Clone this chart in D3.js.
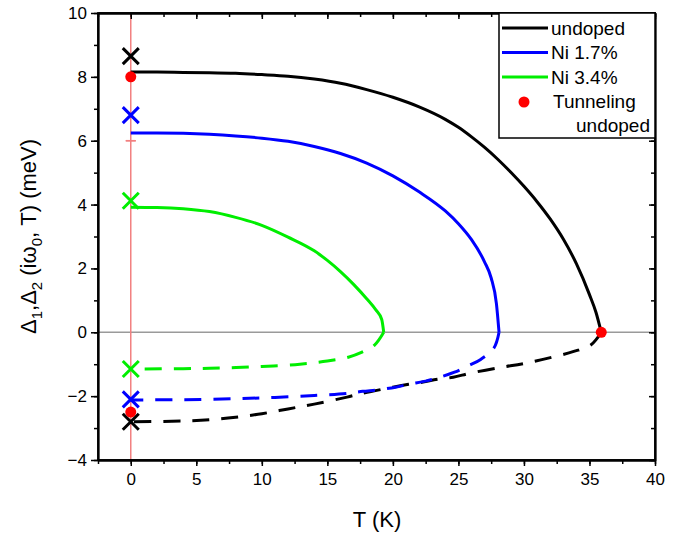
<!DOCTYPE html>
<html>
<head>
<meta charset="utf-8">
<script src="https://cdn.jsdelivr.net/npm/d3@7/dist/d3.min.js"></script>
<style>
  body { margin: 0; background: #fff; }
  text { font-family: "Liberation Sans", Arial, sans-serif; fill: #000; }
</style>
</head>
<body>
<script>
// gap values, [T (K), meV]
var undopedD1 = [[0,8.15],[2,8.15],[4,8.14],[6,8.13],[8,8.11],[10,8.07],[12,8.02],[14,7.93],[16,7.8],[18,7.6],[20,7.36],[22,7.06],[24,6.67],[25,6.42],[26,6.12],[27,5.79],[28,5.42],[29,5.01],[30,4.57],[31,4.09],[32,3.55],[33,2.92],[34,2.15],[35,1.18],[35.5,0.62],[35.9,0]];
var undopedD2 = [[35.9,0],[35.1,-0.4],[33.8,-0.6],[32.75,-0.72],[30,-0.98],[28.2,-1.1],[25.9,-1.28],[24.6,-1.41],[23.4,-1.47],[22.3,-1.56],[21.2,-1.63],[20,-1.72],[17.7,-1.91],[16.5,-2.03],[14,-2.25],[12,-2.4],[10,-2.55],[8,-2.66],[6,-2.74],[4,-2.78],[0,-2.8]];
var ni17D1 = [[0,6.24],[2,6.24],[4,6.23],[6,6.2],[8,6.15],[10,6.08],[12,5.98],[14,5.82],[16,5.6],[18,5.3],[20,4.9],[22,4.4],[24,3.8],[25,3.4],[26,2.9],[27,2.2],[27.5,1.7],[27.9,0.9],[28.1,0]];
var ni17D2 = [[28.1,0],[27.7,-0.5],[26.7,-0.85],[25.8,-1.04],[24.7,-1.25],[23.4,-1.43],[22.5,-1.53],[21.2,-1.63],[20.2,-1.72],[18.9,-1.8],[17.7,-1.85],[16.6,-1.91],[14,-1.98],[11,-2.04],[8,-2.08],[4,-2.11],[0,-2.12]];
var ni34D1 = [[0,3.92],[2,3.91],[4,3.87],[6,3.78],[8,3.6],[10,3.35],[12,2.98],[14,2.55],[15,2.25],[16,1.9],[17,1.5],[18,1.05],[18.7,0.7],[19.15,0.4],[19.3,0]];
var ni34D2 = [[19.3,0],[18.6,-0.4],[17.6,-0.63],[16.6,-0.78],[15,-0.9],[12.9,-1.0],[10,-1.07],[7,-1.12],[4,-1.14],[0,-1.15]];

var seriesNames = ["undoped", "Ni 1.7%", "Ni 3.4%"];
var seriesColors = ["#000000", "#0000ff", "#00ee00"];

// crosses at T = 0
var crossVals = [8.65, 6.8, 4.12, -1.15, -2.1, -2.8];
var crossColors = ["#000000", "#0000ff", "#00ee00", "#00ee00", "#0000ff", "#000000"];

// tunneling points (undoped), with error bars
var tunnelT = [0, 0, 35.9];
var tunnelVals = [8.0, -2.5, 0];
var tunnelErrLo = [2.0, 3.0, 0];
var tunnelErrHi = [2.0, 8.5, 0];

var xTicks = [0, 5, 10, 15, 20, 25, 30, 35, 40];
var yTicks = [-4, -2, 0, 2, 4, 6, 8, 10];

(function () {

    var width = 693, height = 535;
    var mLeft = 98, mRight = 655, mTop = 13, mBottom = 460;

    var x = d3.scaleLinear().domain([-2.5, 40]).range([mLeft, mRight]);
    var y = d3.scaleLinear().domain([-4, 10]).range([mBottom, mTop]);

    var svg = d3.select("body").append("svg")
        .attr("width", width)
        .attr("height", height);

    svg.append("defs").append("clipPath").attr("id", "plot")
        .append("rect")
        .attr("x", mLeft).attr("y", mTop)
        .attr("width", mRight - mLeft).attr("height", mBottom - mTop);

    // zero line
    svg.append("line")
        .attr("x1", mLeft).attr("x2", mRight)
        .attr("y1", y(0)).attr("y2", y(0))
        .attr("stroke", "#9a9a9a")
        .attr("stroke-width", 1.5);

    // error bars
    var eb = svg.append("g").attr("clip-path", "url(#plot)");
    tunnelVals.forEach(function (v, i) {
        if (!tunnelErrLo[i]) return;
        var cx = x(tunnelT[i]);
        var lo = v - tunnelErrLo[i], hi = v + tunnelErrHi[i];
        eb.append("line")
            .attr("x1", cx).attr("x2", cx)
            .attr("y1", y(lo)).attr("y2", y(hi))
            .attr("stroke", "#f28080").attr("stroke-width", 1.5);
        [lo, hi].forEach(function (e) {
            eb.append("line")
                .attr("x1", cx - 5).attr("x2", cx + 5)
                .attr("y1", y(e)).attr("y2", y(e))
                .attr("stroke", "#f28080").attr("stroke-width", 1.5);
        });
    });

    // Delta1 branches: T rises monotonically, so monotoneX keeps them smooth
    var line1 = d3.line()
        .x(function (d) { return x(d[0]); })
        .y(function (d) { return y(d[1]); })
        .curve(d3.curveMonotoneX);

    // Delta2 branches run back from Tc to 0
    var line2 = d3.line()
        .x(function (d) { return x(d[0]); })
        .y(function (d) { return y(d[1]); })
        .curve(d3.curveCatmullRom.alpha(0.5));

    var d1 = [undopedD1, ni17D1, ni34D1];
    var d2 = [undopedD2, ni17D2, ni34D2];

    var curves = svg.append("g").attr("clip-path", "url(#plot)");
    d2.forEach(function (s, i) {
        curves.append("path")
            .attr("d", line2(s))
            .attr("fill", "none")
            .attr("stroke", seriesColors[i])
            .attr("stroke-width", 3)
            .attr("stroke-dasharray", "17,12");
    });
    d1.forEach(function (s, i) {
        curves.append("path")
            .attr("d", line1(s))
            .attr("fill", "none")
            .attr("stroke", seriesColors[i])
            .attr("stroke-width", 3);
    });

    // crosses
    crossVals.forEach(function (v, i) {
        var cx = x(0), cy = y(v), r = 8;
        svg.append("path")
            .attr("d", "M" + (cx - r) + "," + (cy - r) + "L" + (cx + r) + "," + (cy + r) +
                "M" + (cx - r) + "," + (cy + r) + "L" + (cx + r) + "," + (cy - r))
            .attr("stroke", crossColors[i])
            .attr("stroke-width", 3)
            .attr("fill", "none");
    });

    // tunneling dots
    tunnelVals.forEach(function (v, i) {
        svg.append("circle")
            .attr("cx", x(tunnelT[i])).attr("cy", y(v))
            .attr("r", 5.5)
            .attr("fill", "#ff0000");
    });

    // axes
    var xMinor = d3.range(-2.5, 40.1, 2.5);
    var yMinor = d3.range(-4, 10.1, 1);

    var gx = svg.append("g").attr("transform", "translate(0," + mBottom + ")")
        .call(d3.axisBottom(x).tickValues(xTicks).tickSize(6).tickSizeOuter(0).tickPadding(7));
    svg.append("g").attr("transform", "translate(0," + mBottom + ")")
        .call(d3.axisBottom(x).tickValues(xMinor).tickSize(4).tickSizeOuter(0).tickFormat(""));
    var gy = svg.append("g").attr("transform", "translate(" + mLeft + ",0)")
        .call(d3.axisLeft(y).tickValues(yTicks).tickSize(7).tickSizeOuter(0).tickPadding(4));
    svg.append("g").attr("transform", "translate(" + mLeft + ",0)")
        .call(d3.axisLeft(y).tickValues(yMinor).tickSize(4).tickSizeOuter(0).tickFormat(""));
    svg.append("g").attr("transform", "translate(0," + mTop + ")")
        .call(d3.axisBottom(x).tickValues(xTicks).tickSize(6).tickSizeOuter(0).tickFormat(""));
    svg.append("g").attr("transform", "translate(0," + mTop + ")")
        .call(d3.axisBottom(x).tickValues(xMinor).tickSize(4).tickSizeOuter(0).tickFormat(""));
    svg.append("g").attr("transform", "translate(" + mRight + ",0)")
        .call(d3.axisRight(y).tickValues(yTicks).tickSize(-6).tickSizeOuter(0).tickFormat(""));
    svg.append("g").attr("transform", "translate(" + mRight + ",0)")
        .call(d3.axisRight(y).tickValues(yMinor).tickSize(-4).tickSizeOuter(0).tickFormat(""));

    svg.selectAll(".domain").attr("stroke", "#000").attr("stroke-width", 1.8);
    svg.selectAll(".tick line").attr("stroke", "#000").attr("stroke-width", 1.5);
    gx.selectAll("text").attr("font-size", null).style("font-size", "17px");
    gy.selectAll("text").attr("font-size", null).style("font-size", "17px");
    svg.selectAll("g").attr("font-family", null);

    // frame
    svg.append("rect")
        .attr("x", mLeft).attr("y", mTop)
        .attr("width", mRight - mLeft).attr("height", mBottom - mTop)
        .attr("fill", "none").attr("stroke", "#000").attr("stroke-width", 1.8);

    // axis titles
    svg.append("text")
        .attr("x", 377).attr("y", 527)
        .attr("text-anchor", "middle")
        .style("font-size", "22px")
        .text("T (K)");

    var yl = svg.append("text")
        .attr("transform", "translate(36," + ((mTop + mBottom) / 2) + ") rotate(-90)")
        .attr("text-anchor", "middle")
        .style("font-size", "22px");
    yl.append("tspan").text("\u0394");
    yl.append("tspan").attr("dy", 6).style("font-size", "15px").text("1");
    yl.append("tspan").attr("dy", -6).text(",\u0394");
    yl.append("tspan").attr("dy", 6).style("font-size", "15px").text("2");
    yl.append("tspan").attr("dy", -6).text(" (i\u03c9");
    yl.append("tspan").attr("dy", 6).style("font-size", "15px").text("0");
    yl.append("tspan").attr("dy", -6).text(", T) (meV)");

    // legend
    var lg = svg.append("g");
    lg.append("rect")
        .attr("x", 499).attr("y", mTop)
        .attr("width", mRight - 499).attr("height", 125)
        .attr("fill", "#fff").attr("stroke", "#000").attr("stroke-width", 1.5);
    seriesNames.forEach(function (n, i) {
        var ly = 28 + i * 24.5;
        lg.append("line")
            .attr("x1", 502).attr("x2", 548)
            .attr("y1", ly).attr("y2", ly)
            .attr("stroke", seriesColors[i]).attr("stroke-width", 3);
        lg.append("text")
            .attr("x", 551).attr("y", ly + 6.5)
            .style("font-size", "19px")
            .text(n);
    });
    lg.append("circle").attr("cx", 524).attr("cy", 102).attr("r", 5.5).attr("fill", "#ff0000");
    lg.append("text").attr("x", 553).attr("y", 108).style("font-size", "19px").text("Tunneling");
    lg.append("text").attr("x", 650).attr("y", 132).attr("text-anchor", "end").style("font-size", "19px").text("undoped");

})();
</script>
</body>
</html>
